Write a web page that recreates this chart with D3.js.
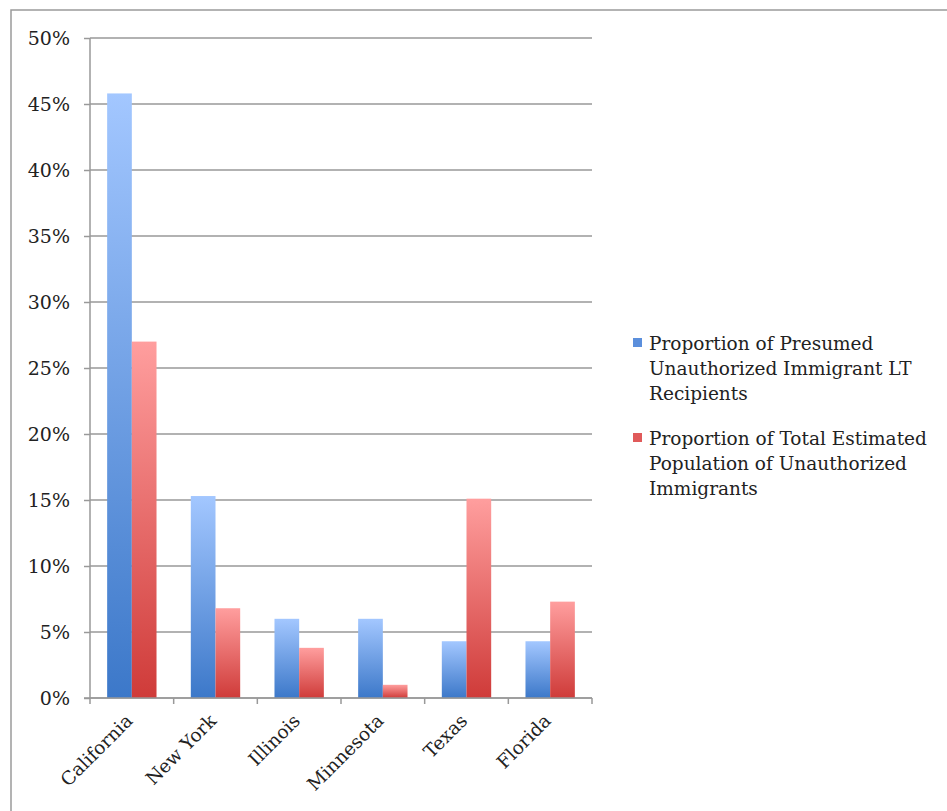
<!DOCTYPE html>
<html>
<head>
<meta charset="utf-8">
<script src="https://cdn.jsdelivr.net/npm/d3@7"></script>
<style>
  body { margin: 0; background: #fff; }
  text { font-family: "DejaVu Serif", serif; fill: #222; }
</style>
</head>
<body>
<div class="chart"></div>
<script>
// Data
var states = ["California", "New York", "Illinois", "Minnesota", "Texas", "Florida"];
var seriesNames = [
  "Proportion of Presumed Unauthorized Immigrant LT Recipients",
  "Proportion of Total Estimated Population of Unauthorized Immigrants"
];
var ltRecipients = [45.8, 15.3, 6.0, 6.0, 4.3, 4.3];
var populationShare = [27.0, 6.8, 3.8, 1.0, 15.1, 7.3];
var yTicks = [0, 5, 10, 15, 20, 25, 30, 35, 40, 45, 50];

var legendLines = [
  ["Proportion of Presumed", "Unauthorized Immigrant LT", "Recipients"],
  ["Proportion of Total Estimated", "Population of Unauthorized", "Immigrants"]
];

var width = 947, height = 811;
var margin = {left: 90, top: 38, right: 355, bottom: 113};
var innerW = width - margin.left - margin.right;
var innerH = height - margin.top - margin.bottom;
var fontSize = "18.5px";

var svg = d3.select(".chart").append("svg")
  .attr("width", width)
  .attr("height", height);

// Gradients for the bars
var defs = svg.append("defs");
var grads = [
  {id: "gradBlue", top: "#a3c7ff", bottom: "#3c78c9"},
  {id: "gradRed", top: "#ff9e9e", bottom: "#cf3b39"}
];
grads.forEach(function(g) {
  var lg = defs.append("linearGradient")
    .attr("id", g.id)
    .attr("x1", 0).attr("y1", 0).attr("x2", 0).attr("y2", 1);
  lg.append("stop").attr("offset", "0%").attr("stop-color", g.top);
  lg.append("stop").attr("offset", "100%").attr("stop-color", g.bottom);
});

// Outer frame
svg.append("rect")
  .attr("x", 11).attr("y", 10)
  .attr("width", 940).attr("height", 810)
  .attr("fill", "none")
  .attr("stroke", "#9a9a9a")
  .attr("stroke-width", 1.5);

var g = svg.append("g")
  .attr("transform", "translate(" + margin.left + "," + margin.top + ")");

var x = d3.scaleBand()
  .domain(states)
  .range([0, innerW])
  .paddingInner(0.41)
  .paddingOuter(0.205);

var x0 = d3.scaleBand()
  .domain(states)
  .range([0, innerW]);

var xSub = d3.scaleBand()
  .domain([0, 1])
  .range([0, x.bandwidth()]);

var y = d3.scaleLinear()
  .domain([0, 50])
  .range([innerH, 0]);

// Gridlines
g.selectAll(".grid")
  .data(yTicks)
  .enter().append("line")
    .attr("class", "grid")
    .attr("x1", 0).attr("x2", innerW)
    .attr("y1", function(d) { return y(d); })
    .attr("y2", function(d) { return y(d); })
    .attr("stroke", "#999")
    .attr("stroke-width", 1.5);

// Bars
var rows = states.map(function(s, i) {
  return {state: s, values: [ltRecipients[i], populationShare[i]]};
});

var groups = g.selectAll(".state")
  .data(rows)
  .enter().append("g")
    .attr("class", "state")
    .attr("transform", function(d) { return "translate(" + x(d.state) + ",0)"; });

groups.selectAll("rect")
  .data(function(d) { return d.values.map(function(v, k) { return {k: k, v: v}; }); })
  .enter().append("rect")
    .attr("x", function(d) { return xSub(d.k); })
    .attr("width", xSub.bandwidth())
    .attr("y", function(d) { return y(d.v); })
    .attr("height", function(d) { return innerH - y(d.v); })
    .attr("fill", function(d) { return d.k === 0 ? "url(#gradBlue)" : "url(#gradRed)"; });

// Y axis
var yAxis = d3.axisLeft(y)
  .tickValues(yTicks)
  .tickSize(6)
  .tickPadding(14)
  .tickFormat(function(d) { return d + "%"; });

var yG = g.append("g").call(yAxis);
yG.select(".domain").attr("stroke", "#999").attr("stroke-width", 1.5).attr("d", "M0," + innerH + "V0");
yG.selectAll(".tick line").attr("stroke", "#999").attr("stroke-width", 1.5);
yG.selectAll(".tick text")
  .attr("font-size", "19px")
  .attr("fill", "#222")
  .style("font-family", "'DejaVu Serif', serif")
  .attr("dy", "0.35em");

// X axis baseline with boundary ticks
var xG = g.append("g").attr("transform", "translate(0," + innerH + ")");
xG.append("line")
  .attr("x1", -6).attr("x2", innerW)
  .attr("stroke", "#999").attr("stroke-width", 1.5);
xG.selectAll(".xtick")
  .data(states.concat(["end"]))
  .enter().append("line")
    .attr("class", "xtick")
    .attr("x1", function(d, i) { return i * x0.step(); })
    .attr("x2", function(d, i) { return i * x0.step(); })
    .attr("y1", 0).attr("y2", 6)
    .attr("stroke", "#999").attr("stroke-width", 1.5);

xG.selectAll(".xlabel")
  .data(states)
  .enter().append("text")
    .attr("class", "xlabel")
    .attr("text-anchor", "end")
    .attr("font-size", fontSize)
    .attr("transform", function(d) {
      return "translate(" + (x0(d) + x0.bandwidth() / 2 + 2) + ",24) rotate(-45)";
    })
    .text(function(d) { return d; });

// Legend
var legend = svg.append("g").attr("transform", "translate(633,0)");
var legendColors = ["#5b8fdc", "#e05a5a"];
var legendTop = [350, 445];

legendLines.forEach(function(lines, i) {
  legend.append("rect")
    .attr("x", 0)
    .attr("y", legendTop[i] - 12)
    .attr("width", 9)
    .attr("height", 9)
    .attr("fill", legendColors[i]);
  lines.forEach(function(line, j) {
    legend.append("text")
      .attr("x", 16)
      .attr("y", legendTop[i] + j * 25)
      .attr("font-size", fontSize)
      .text(line);
  });
});
</script>
</body>
</html>
